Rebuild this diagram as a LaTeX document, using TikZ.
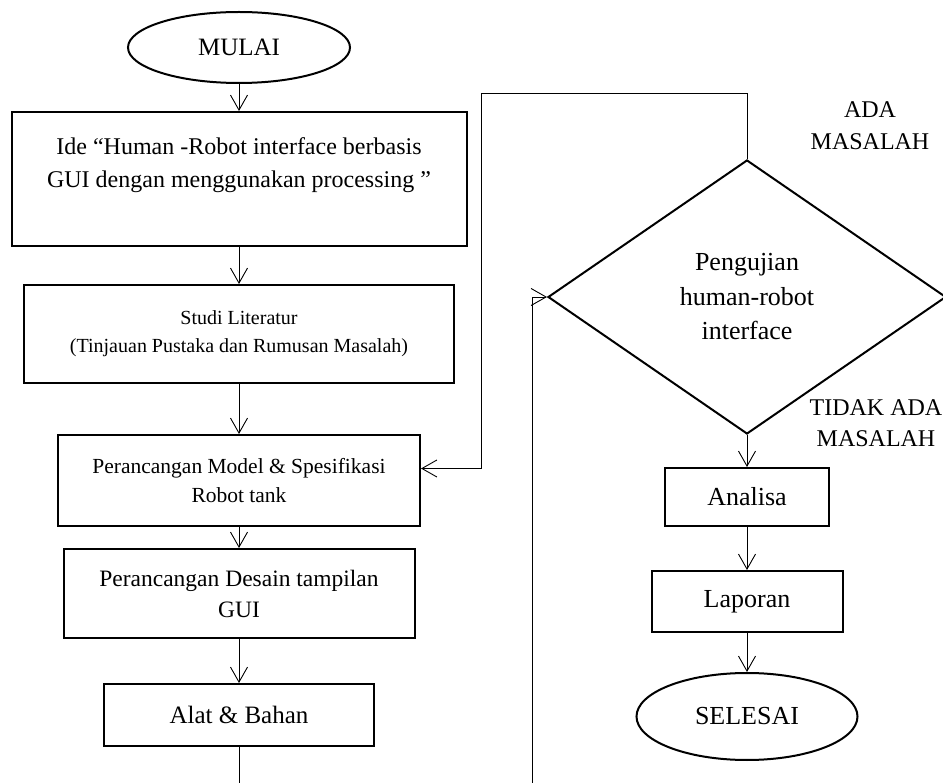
\documentclass[tikz,border=0pt]{standalone}
\usepackage{fontspec}
\setmainfont{Liberation Serif}
\usepackage{tikz}
\usetikzlibrary{positioning}
\usetikzlibrary{arrows.meta}
\usetikzlibrary{shapes.geometric}
\newcommand{\ukuran}[2]{\fontsize{#1}{#2}\selectfont}
\tikzset {
  % start / end
  terminal/.style = {draw, ellipse, line width=2pt, inner sep=0pt},
  % process box
  proses/.style = {draw, rectangle, line width=2pt, align=center, inner sep=0pt},
  % decision
  keputusan/.style = {draw, diamond, line width=2pt, align=center, inner sep=0pt},
  % flow lines
  alur/.style = {line width=0.9pt, -{Straight Barb[length=15pt, width=17pt]}},
  garis/.style = {line width=0.9pt},
  ket/.style = {align=center},
}

\begin{document}
\begin{tikzpicture}[x=1pt, y=-1pt]
      \useasboundingbox (0,0) rectangle (943,783);

      \node[terminal, minimum width=222pt, minimum height=71pt, font=\ukuran{25}{30}] (mulai) at (239,47.5) {MULAI};
      \node[proses, minimum width=455pt, minimum height=134pt, font=\ukuran{24}{33}] (ide) [below of=mulai, node distance=131.5pt] {Ide “Human -Robot interface berbasis\\GUI dengan menggunakan processing ”\\ ~};
      \node[proses, minimum width=430pt, minimum height=98pt, font=\ukuran{20}{28}] (studi) [below of=ide, node distance=155pt] {Studi Literatur\\(Tinjauan Pustaka dan Rumusan Masalah)};
      \node[proses, minimum width=362pt, minimum height=91pt, font=\ukuran{21.5}{29}] (model) [below of=studi, node distance=146.5pt] {Perancangan Model \& Spesifikasi\\Robot tank};
      \node[proses, minimum width=351pt, minimum height=89pt, font=\ukuran{23.5}{31}] (desain) [below of=model, node distance=113pt] {Perancangan Desain tampilan\\GUI};
      \node[proses, minimum width=270pt, minimum height=62pt, font=\ukuran{25}{30}] (alat) [below of=desain, node distance=121.5pt] {Alat \& Bahan};

      \node[keputusan, minimum width=398pt, minimum height=274pt, font=\ukuran{26}{34.5}] (uji) at (747,297) {Pengujian\\human-robot\\interface};
      \node[proses, minimum width=164pt, minimum height=58pt, font=\ukuran{26}{30}] (analisa) [below of=uji, node distance=200pt] {Analisa};
      \node[proses, minimum width=191pt, minimum height=61pt, font=\ukuran{26}{30}] (laporan) [below of=analisa, node distance=104.5pt] {Laporan};
      \node[terminal, minimum width=221pt, minimum height=87pt, font=\ukuran{26}{30}] (selesai) [below of=laporan, node distance=115pt] {SELESAI};

      \node[ket, font=\ukuran{24}{32}] (ada) at (870,126) {ADA\\MASALAH};
      \node[ket, font=\ukuran{24}{31}] (tidak) at (876,423) {TIDAK ADA\\MASALAH};

      \coordinate (atas) at (481,93);
      \coordinate (ujung2) at (532,783);
      \coordinate (ujung1) at (alat.south |- ujung2);

      \draw[alur] (mulai) -- (ide);
      \draw[alur] (ide) -- (studi);
      \draw[alur] (studi) -- (model);
      \draw[alur] (model) -- (desain);
      \draw[alur] (desain) -- (alat);
      \draw[garis] (alat.south) -- (ujung1);
      \draw[alur] (ujung2) |- (uji.west);
      \draw[alur] (uji.north) |- (atas) |- ([yshift=12pt]model.east);
      \draw[alur] (uji.south) -- (analisa);
      \draw[alur] (analisa) -- (laporan);
      \draw[alur] (laporan) -- (selesai);
\end{tikzpicture}
\end{document}
